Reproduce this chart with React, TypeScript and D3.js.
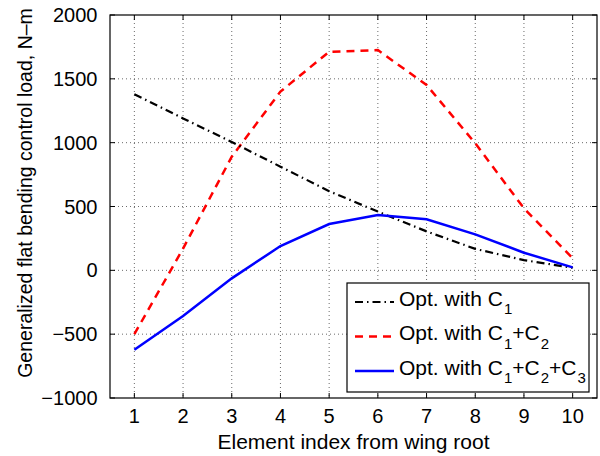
import * as d3 from 'd3';
import React, { useRef, useEffect } from 'react';

const elements = [1, 2, 3, 4, 5, 6, 7, 8, 9, 10]
const optC1 = [1380, 1190, 1005, 812, 620, 460, 305, 168, 80, 20]
const optC12 = [-500, 170, 890, 1400, 1712, 1725, 1452, 995, 486, 95]
const optC123 = [-622, -358, -63, 190, 363, 433, 400, 282, 138, 23]
const yTicks = [-1000, -500, 0, 500, 1000, 1500, 2000]

const FONT = '"Liberation Sans", Arial, Helvetica, sans-serif'

export default function App() {
    const ref = useRef(null)

    const margin = { top: 15, right: 3, bottom: 58, left: 110 }
    const W = 600
    const H = 456
    const width = W - margin.left - margin.right
    const height = H - margin.top - margin.bottom

    useEffect(() => {
        d3.select(ref.current).selectAll('svg').remove()

        const root = d3.select(ref.current)
            .append('svg')
            .attr('width', W)
            .attr('height', H)
            .style('position', 'absolute')
            .style('left', 0)
            .style('top', 0)
            .style('background', '#fff')
            .style('font-family', FONT)

        const svg = root.append('g')
            .attr('transform', 'translate(' + margin.left + ',' + margin.top + ')')

        const x = d3.scaleLinear().domain([0.5, 10.5]).range([0, width])
        const y = d3.scaleLinear().domain([-1000, 2000]).range([height, 0])

        // dotted grid
        svg.append('g').selectAll('line.gx')
            .data(elements)
            .join('line')
            .attr('x1', d => x(d)).attr('x2', d => x(d))
            .attr('y1', 0).attr('y2', height)
            .attr('stroke', '#444').attr('stroke-width', 0.8)
            .attr('stroke-dasharray', '1,3')
        svg.append('g').selectAll('line.gy')
            .data(yTicks.slice(1, -1))
            .join('line')
            .attr('x1', 0).attr('x2', width)
            .attr('y1', d => y(d)).attr('y2', d => y(d))
            .attr('stroke', '#444').attr('stroke-width', 0.8)
            .attr('stroke-dasharray', '1,3')

        // ticks inside, all four sides
        const tl = 5
        elements.forEach(d => {
            svg.append('line').attr('x1', x(d)).attr('x2', x(d)).attr('y1', height).attr('y2', height - tl).attr('stroke', '#000')
            svg.append('line').attr('x1', x(d)).attr('x2', x(d)).attr('y1', 0).attr('y2', tl).attr('stroke', '#000')
        })
        yTicks.forEach(d => {
            svg.append('line').attr('x1', 0).attr('x2', tl).attr('y1', y(d)).attr('y2', y(d)).attr('stroke', '#000')
            svg.append('line').attr('x1', width).attr('x2', width - tl).attr('y1', y(d)).attr('y2', y(d)).attr('stroke', '#000')
        })

        // tick labels
        svg.append('g').selectAll('text')
            .data(elements)
            .join('text')
            .attr('x', d => x(d))
            .attr('y', height + 24.5)
            .attr('text-anchor', 'middle')
            .style('font-size', '20px')
            .text(d => d)
        svg.append('g').selectAll('text')
            .data(yTicks)
            .join('text')
            .attr('x', -12.5)
            .attr('y', d => y(d) + 7)
            .attr('text-anchor', 'end')
            .style('font-size', '20px')
            .text(d => d < 0 ? '\u2212' + Math.abs(d) : d)

        // axis titles
        svg.append('text')
            .attr('x', x(5.5))
            .attr('y', height + 51)
            .attr('text-anchor', 'middle')
            .style('font-size', '21px')
            .text('Element index from wing root')
        svg.append('text')
            .attr('transform', 'translate(' + (-margin.left + 31.5) + ',' + (193 - margin.top) + ') rotate(-90)')
            .attr('text-anchor', 'middle')
            .style('font-size', '19.5px')
            .text('Generalized flat bending control load, N\u2013m')

        const line = d3.line()
            .x((d, i) => x(elements[i]))
            .y(d => y(d))

        svg.append('path').datum(optC12)
            .attr('d', line)
            .attr('fill', 'none').attr('stroke', '#ff0000')
            .attr('stroke-width', 2.5).attr('stroke-dasharray', '8,6')
        svg.append('path').datum(optC1)
            .attr('d', line)
            .attr('fill', 'none').attr('stroke', '#000')
            .attr('stroke-width', 2.2).attr('stroke-dasharray', '8,4,1.5,4')
        svg.append('path').datum(optC123)
            .attr('d', line)
            .attr('fill', 'none').attr('stroke', '#0000ff')
            .attr('stroke-width', 2.5)

        // frame
        svg.append('rect')
            .attr('x', 0).attr('y', 0)
            .attr('width', width).attr('height', height)
            .attr('fill', 'none').attr('stroke', '#000').attr('stroke-width', 1.2)

        // legend
        const lg = root.append('g')
        lg.append('rect')
            .attr('x', 347).attr('y', 283)
            .attr('width', 242).attr('height', 109)
            .attr('fill', '#fff').attr('stroke', '#000').attr('stroke-width', 1.2)

        const items = [
            { color: '#000', dash: '8,4,1.5,4', w: 2.2, subs: ['1'] },
            { color: '#ff0000', dash: '8,6', w: 2.5, subs: ['1', '2'] },
            { color: '#0000ff', dash: null, w: 2.5, subs: ['1', '2', '3'] },
        ]
        items.forEach((it, i) => {
            const cy = 302 + i * 34.5
            lg.append('line')
                .attr('x1', 355).attr('x2', 394)
                .attr('y1', cy).attr('y2', cy)
                .attr('stroke', it.color).attr('stroke-width', it.w)
                .attr('stroke-dasharray', it.dash)
            const t = lg.append('text')
                .attr('x', 399).attr('y', cy + 3.5)
                .style('font-size', '21px')
            t.append('tspan').text('Opt. with C')
            it.subs.forEach((s, j) => {
                if (j > 0) t.append('tspan').attr('dy', -8.5).text('+C')
                t.append('tspan').attr('dx', 1).attr('dy', 8.5).style('font-size', '15px').text(s)
            })
        })
    }, [])

    return <div ref={ref} />
}
